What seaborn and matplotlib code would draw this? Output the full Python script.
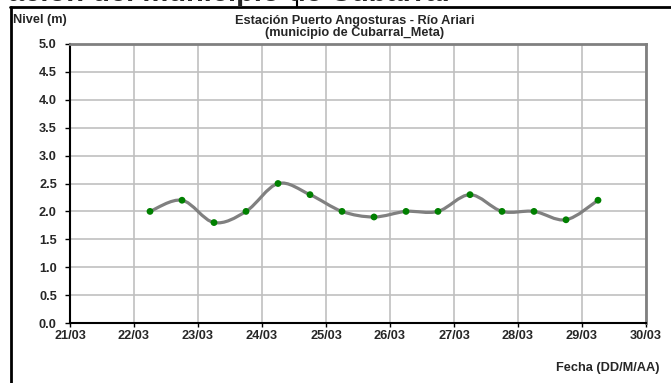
import numpy as np
import pandas as pd
import matplotlib
matplotlib.use("Agg")
import matplotlib.pyplot as plt
import matplotlib.dates as mdates
from matplotlib.path import Path
from matplotlib.patches import PathPatch
from matplotlib.lines import Line2D
import seaborn as sns

# Lecturas del nivel (dos por dia)
fechas = ["2023-03-22 06:00", "2023-03-22 18:00", "2023-03-23 06:00", "2023-03-23 18:00",
          "2023-03-24 06:00", "2023-03-24 18:00", "2023-03-25 06:00", "2023-03-25 18:00",
          "2023-03-26 06:00", "2023-03-26 18:00", "2023-03-27 06:00", "2023-03-27 18:00",
          "2023-03-28 06:00", "2023-03-28 18:00", "2023-03-29 06:00"]
nivel = [2.0, 2.2, 1.8, 2.0, 2.5, 2.3, 2.0, 1.9, 2.0, 2.0, 2.3, 2.0, 2.0, 1.85, 2.2]
x_ticks = ["2023-03-21", "2023-03-22", "2023-03-23", "2023-03-24", "2023-03-25",
           "2023-03-26", "2023-03-27", "2023-03-28", "2023-03-29", "2023-03-30"]
y_ticks = [0.0, 0.5, 1.0, 1.5, 2.0, 2.5, 3.0, 3.5, 4.0, 4.5, 5.0]

df = pd.DataFrame({"fecha": pd.to_datetime(fechas), "nivel": nivel})

sns.set_style("white")
plt.rcParams["font.family"] = ["Liberation Sans", "DejaVu Sans"]
plt.rcParams["font.weight"] = "bold"
FS = 9.2

fig = plt.figure(figsize=(6.71, 3.83), dpi=100)
ax = fig.add_axes([70 / 671, 1 - 323 / 383, 576 / 671, 279 / 383])


def smooth_path(xs, ys):
    # curva suavizada tipo Excel (Bezier con puntos de control de Catmull-Rom)
    pts = np.column_stack([xs, ys])
    n = len(pts)
    verts = [pts[0]]
    codes = [Path.MOVETO]
    for i in range(n - 1):
        p0 = pts[i - 1] if i > 0 else pts[i]
        p1, p2 = pts[i], pts[i + 1]
        p3 = pts[i + 2] if i + 2 < n else pts[i + 1]
        verts += [p1 + (p2 - p0) / 6, p2 - (p3 - p1) / 6, p2]
        codes += [Path.CURVE4] * 3
    return Path(verts, codes)


xnum = mdates.date2num(df["fecha"])
ax.add_patch(PathPatch(smooth_path(xnum, df["nivel"].values), facecolor="none",
                       edgecolor="#808080", lw=2.3, zorder=3, capstyle="round"))
sns.scatterplot(data=df, x="fecha", y="nivel", ax=ax, color="#008000", s=24,
                edgecolor="none", zorder=4, legend=False)

xt = pd.to_datetime(x_ticks)
ax.set_xlim(xt[0], xt[-1])
ax.set_ylim(0, 5)
ax.set_xticks(xt)
ax.xaxis.set_major_formatter(mdates.DateFormatter("%d/%m"))
ax.set_yticks(y_ticks)
ax.set_yticklabels([f"{v:.1f}" for v in y_ticks])
ax.grid(True, color="#c0c0c0", lw=1.2)
ax.set_axisbelow(True)
ax.tick_params(axis="x", direction="out", length=3, width=1, color="black",
               labelsize=FS, pad=2, bottom=True)
ax.tick_params(axis="y", direction="out", length=3.5, width=1, color="black",
               labelsize=FS, pad=6, left=True)
for lab in ax.get_xticklabels() + ax.get_yticklabels():
    lab.set_fontweight("bold")
ax.set_xlabel("")
ax.set_ylabel("")
for side in ["left", "bottom"]:
    ax.spines[side].set_color("black")
    ax.spines[side].set_linewidth(1.5)
for side in ["top", "right"]:
    ax.spines[side].set_color("#808080")
    ax.spines[side].set_linewidth(2)

fig.text(355 / 671, 1 - 27 / 383, "Estación Puerto Angosturas - Río Ariari\n(municipio de Cubarral_Meta)",
         ha="center", va="center", fontsize=FS, fontweight="bold", linespacing=1.05)
fig.text(13 / 671, 1 - 20 / 383, "Nivel (m)", ha="left", va="center", fontsize=FS, fontweight="bold")
fig.text(660 / 671, 1 - 368 / 383, "Fecha (DD/M/AA)", ha="right", va="center",
         fontsize=FS, fontweight="bold")

# marco de la tabla del documento original
fig.add_artist(Line2D([10 / 671, 1], [1 - 7 / 383] * 2, color="black", lw=2, transform=fig.transFigure))
fig.add_artist(Line2D([10.5 / 671] * 2, [0, 1 - 7 / 383], color="black", lw=2, transform=fig.transFigure))
fig.add_artist(Line2D([297 / 671] * 2, [1 - 7 / 383, 1], color="black", lw=1.5, transform=fig.transFigure))
fig.text(8 / 671, 1 - 0.75 / 383, "ación del municipio de Cubarral", ha="left", va="baseline",
         fontsize=21, fontweight="bold")

fig.savefig("out.png", dpi=100)
